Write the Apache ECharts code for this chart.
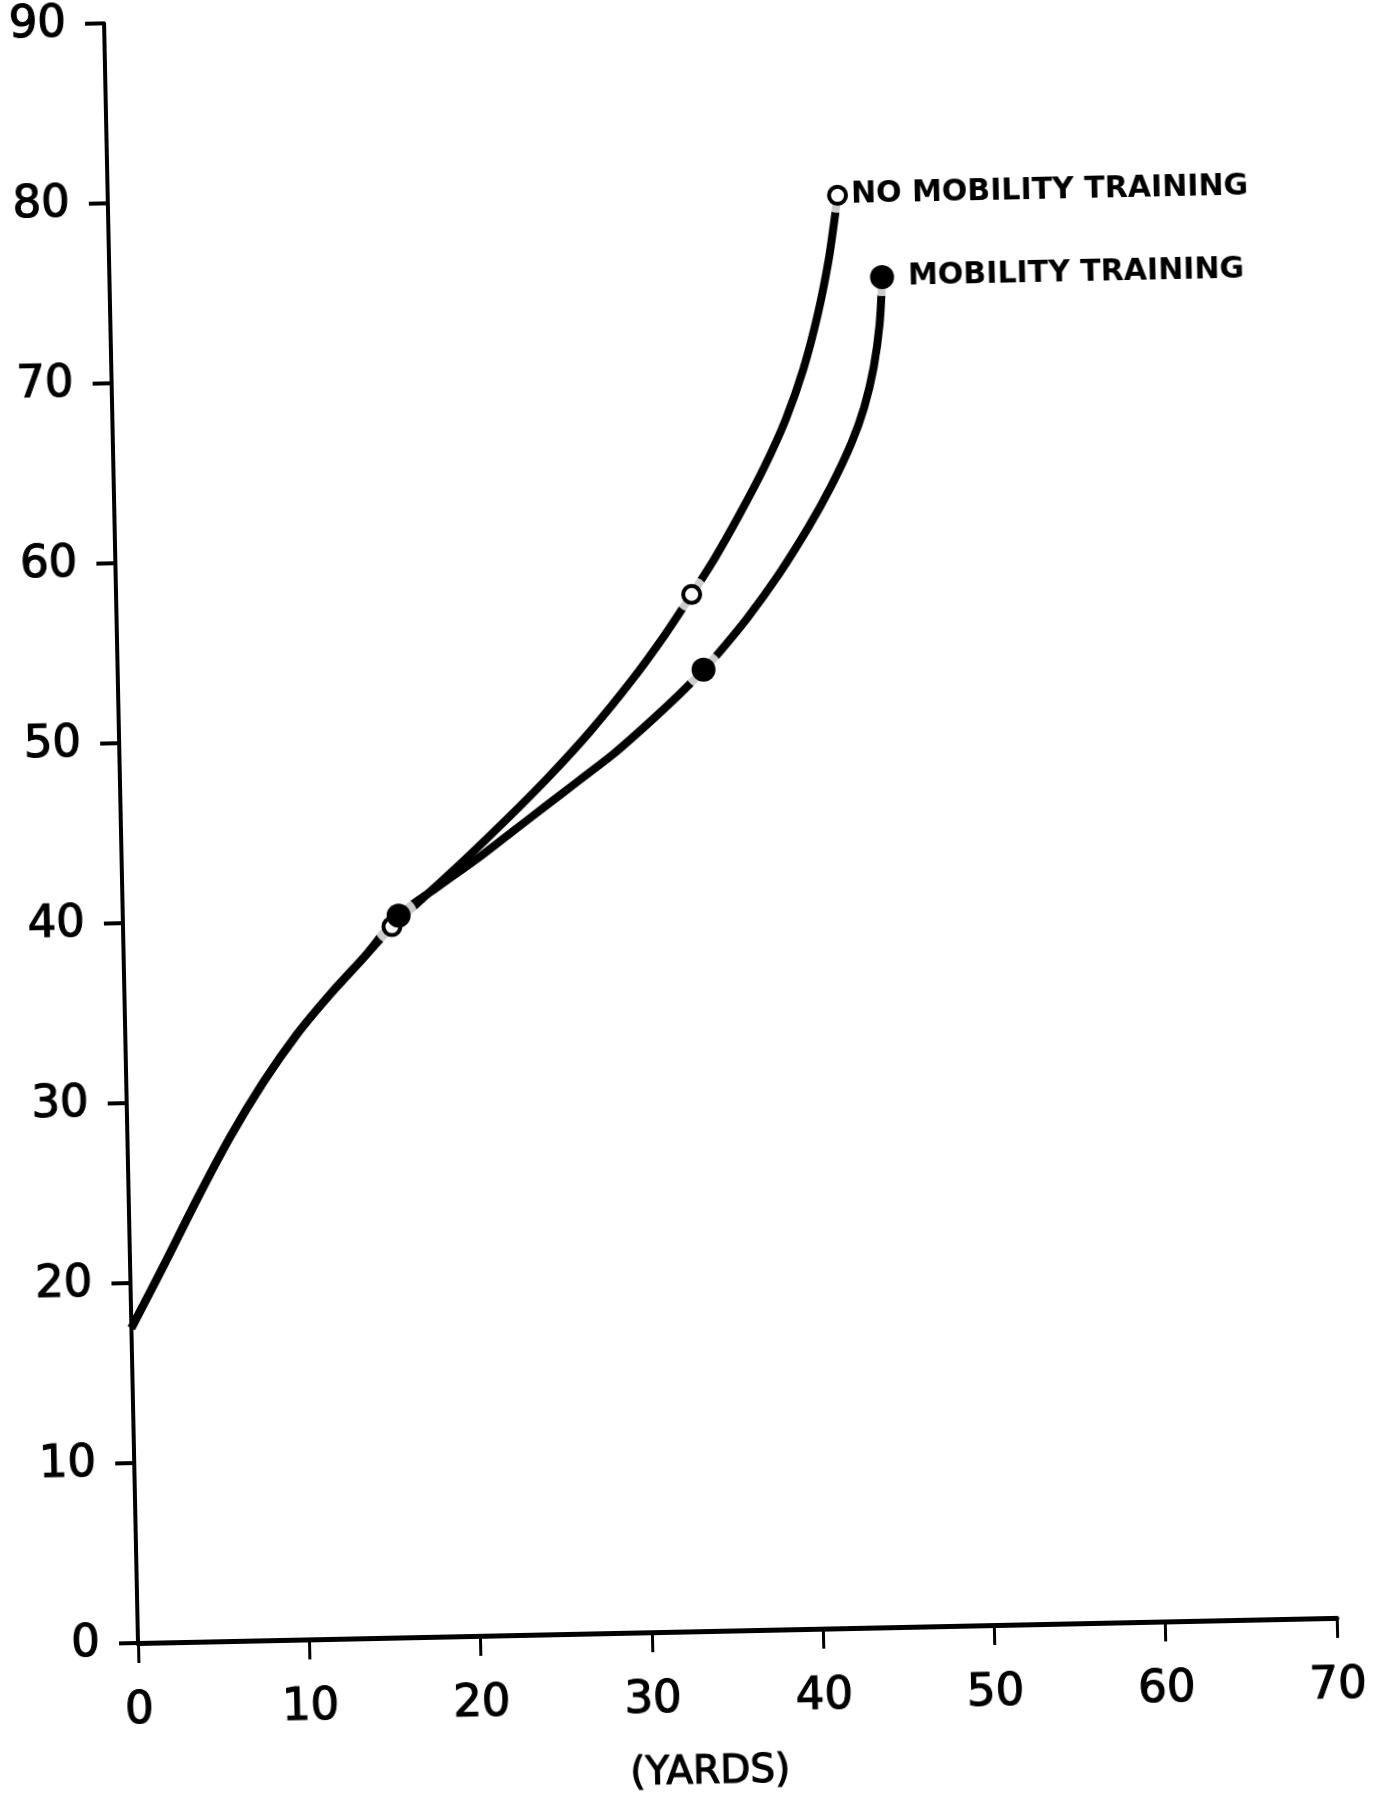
<!DOCTYPE html>
<html><head><meta charset="utf-8">
<script src="https://cdn.jsdelivr.net/npm/echarts@6/dist/echarts.min.js"></script>
<style>
html,body{margin:0;padding:0;background:#fff;overflow:hidden}
#c{width:1384px;height:1830px;transform-origin:138px 1643px;transform:rotate(-1.2deg)}
</style>
</head><body><div id="c"></div>
<script>
// Shared trunk of both curves (before they split)
const trunkYards  = [0, 2, 4, 6, 8, 10, 12, 14];
const trunkValues = [17.5, 21.0, 24.6, 28.0, 31.0, 33.6, 35.8, 37.8];
// No mobility training branch
const noMobYards  = [15.7, 17.5, 20, 22.5, 25, 27.5, 30, 32, 33.6, 35, 36.5, 38, 39.3, 40.4, 41.3, 42.0, 42.4, 42.6];
const noMobValues = [39.5, 41.0, 43.1, 45.3, 47.6, 50.1, 52.9, 55.4, 57.6, 59.6, 62.0, 64.6, 67.2, 70.0, 73.0, 76.0, 78.3, 79.6];
// Mobility training branch
const mobYards  = [16.1, 18.5, 20.8, 22.8, 24.8, 26.8, 28.8, 30.8, 32.8, 34.2, 35.0, 36.8, 38.7, 40.5, 41.9, 43.1, 43.9, 44.5, 44.9, 45.1];
const mobValues = [40.1, 41.7, 43.2, 44.6, 46.0, 47.4, 48.8, 50.4, 52.1, 53.4, 54.2, 56.2, 58.6, 61.2, 63.5, 65.8, 67.8, 70.0, 72.4, 75.0];
// Plotted markers
const noMobMarkerYards  = [15.7, 33.6, 42.6];
const noMobMarkerValues = [39.5, 57.6, 79.6];
const mobMarkerYards  = [16.1, 34.2, 45.1];
const mobMarkerValues = [40.1, 53.4, 75.0];
const seriesNames = ['NO MOBILITY TRAINING', 'MOBILITY TRAINING'];
const xTickLabels = ['0', '10', '20', '30', '40', '50', '60', '70'];
const yTickLabels = ['0', '10', '20', '30', '40', '50', '60', '70', '80', '90'];
const xAxisName = '(YARDS)';

const zip = (a, b) => a.map((v, i) => [v, b[i]]);
const noMobLine = zip(trunkYards, trunkValues).concat(zip(noMobYards, noMobValues));
const mobLine = zip(trunkYards, trunkValues).concat(zip(mobYards, mobValues));
const noMobPts = zip(noMobMarkerYards, noMobMarkerValues);
const mobPts = zip(mobMarkerYards, mobMarkerValues);

const font = 'DejaVu Sans';
const tickText = { color: '#000', fontFamily: font, fontSize: 45, textBorderColor: '#000', textBorderWidth: 1.2 };
const labelled = (pts, name, dist) => pts.map((p, i) => i === pts.length - 1 ? {
  value: p,
  label: { show: true, formatter: name, position: 'right', distance: dist,
    color: '#000', fontFamily: font, fontWeight: 'bold', fontSize: 30 }
} : { value: p });

const chart = echarts.init(document.getElementById('c'), null, { renderer: 'canvas' });
chart.setOption({
  backgroundColor: '#fff',
  animation: false,
  grid: { left: 138, right: 47, top: 15, bottom: 187 },
  xAxis: {
    type: 'value', min: 0, max: 70, interval: 10,
    name: xAxisName, nameLocation: 'middle', nameGap: 122,
    nameTextStyle: { color: '#000', fontFamily: font, fontSize: 39, textBorderColor: '#000', textBorderWidth: 1.2, padding: [0, 60, 0, 0] },
    axisLine: { lineStyle: { color: '#000', width: 5 } },
    axisTick: { show: true, length: 20, lineStyle: { color: '#000', width: 3 } },
    axisLabel: Object.assign({ margin: 46, formatter: (v) => xTickLabels[Math.round(v / 10)] }, tickText),
    splitLine: { show: false }
  },
  yAxis: {
    type: 'value', min: 0, max: 90, interval: 10,
    axisLine: { show: true, lineStyle: { color: '#000', width: 4 } },
    axisTick: { show: true, length: 19, lineStyle: { color: '#000', width: 4 } },
    axisLabel: Object.assign({ margin: 38, formatter: (v) => yTickLabels[Math.round(v / 10)] }, tickText),
    splitLine: { show: false }
  },
  series: [
    { name: seriesNames[0], type: 'line', data: noMobLine, smooth: 0.3, showSymbol: false,
      lineStyle: { color: '#000', width: 8 }, z: 2 },
    { name: seriesNames[1], type: 'line', data: mobLine, smooth: 0.3, showSymbol: false,
      lineStyle: { color: '#000', width: 8 }, z: 2 },
    // white halos producing the gaps in the line around each marker
    { type: 'scatter', data: noMobPts, symbol: 'circle', symbolSize: 35,
      itemStyle: { color: '#fff' }, z: 3, silent: true },
    { type: 'scatter', data: mobPts, symbol: 'circle', symbolSize: 38,
      itemStyle: { color: '#fff' }, z: 3, silent: true },
    { name: seriesNames[0], type: 'scatter', data: labelled(noMobPts, seriesNames[0], 3),
      symbol: 'circle', symbolSize: 17,
      itemStyle: { color: '#fff', borderColor: '#000', borderWidth: 4, opacity: 1 }, z: 4 },
    { name: seriesNames[1], type: 'scatter', data: labelled(mobPts, seriesNames[1], 14),
      symbol: 'circle', symbolSize: 24,
      itemStyle: { color: '#000', opacity: 1 }, z: 5 }
  ]
});
</script></body></html>
